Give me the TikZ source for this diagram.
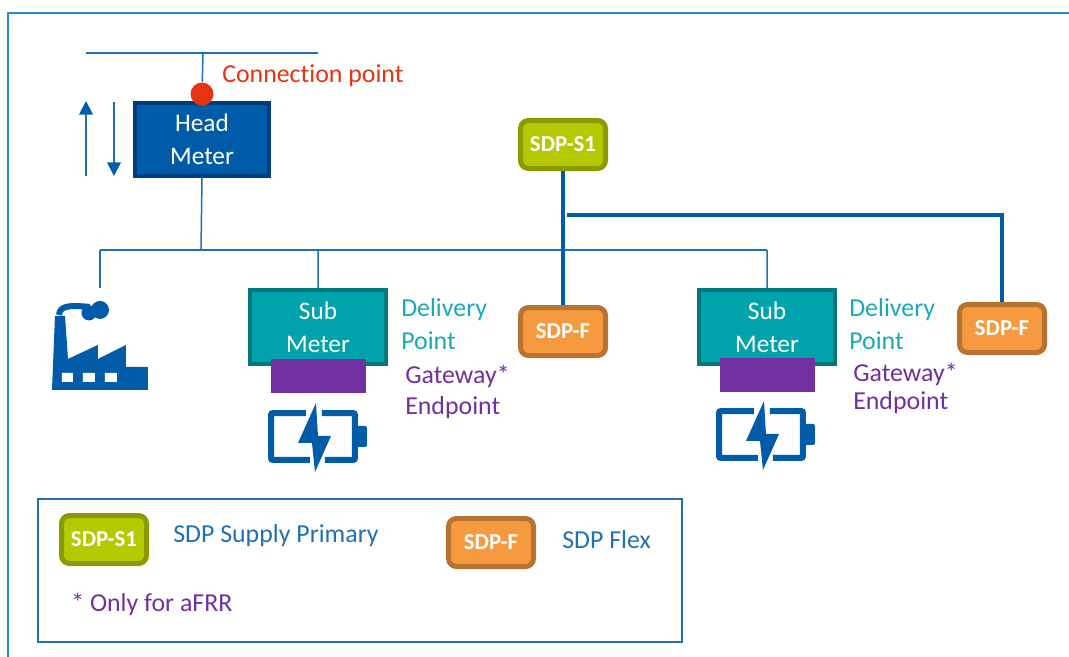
\documentclass[tikz,border=0pt]{standalone}
\usepackage{fontspec}
\setmainfont[Ligatures=NoCommon]{Carlito}
\usepackage{tikz}
\usetikzlibrary{arrows.meta}
\definecolor{frameblue}{HTML}{2B8CCB}
\definecolor{lineblue}{HTML}{1F70B5}
\definecolor{iconblue}{HTML}{005CA8}
\definecolor{headdark}{HTML}{003F7F}
\definecolor{subfill}{HTML}{00A3AB}
\definecolor{subdark}{HTML}{00787E}
\definecolor{delivteal}{HTML}{1AA9B5}
\definecolor{gatepurple}{HTML}{7030A0}
\definecolor{redpoint}{HTML}{E63312}
\definecolor{sfill}{HTML}{B5C900}
\definecolor{sdark}{HTML}{8A9A00}
\definecolor{ffill}{HTML}{F59A3E}
\definecolor{fdark}{HTML}{B87333}
\tikzstyle{head} = [rectangle, align=center, draw=headdark, fill=iconblue, text=white, line width=0.1cm, minimum width=3.35cm, minimum height=1.825cm, inner sep=0pt, font=\fontsize{18}{22}\selectfont]
\tikzstyle{sub} = [rectangle, align=center, draw=subdark, fill=subfill, text=white, line width=0.1cm, minimum width=3.4cm, minimum height=1.85cm, inner sep=0pt, font=\fontsize{18}{22}\selectfont]
\tikzstyle{gate} = [rectangle, fill=gatepurple, minimum width=2.375cm, minimum height=0.85cm, inner sep=0pt]
\tikzstyle{sdps} = [rectangle, rounded corners=0.2cm, draw=sdark, fill=sfill, text=white, line width=0.125cm, minimum width=2.125cm, minimum height=1.2cm, inner sep=0pt, font=\fontsize{16.2}{18}\selectfont\bfseries]
\tikzstyle{sdpf} = [rectangle, rounded corners=0.2cm, draw=fdark, fill=ffill, text=white, line width=0.125cm, minimum width=2.125cm, minimum height=1.2cm, inner sep=0pt, font=\fontsize{16.2}{18}\selectfont\bfseries]
\tikzstyle{caption} = [anchor=west, align=left, inner sep=0pt, font=\fontsize{18.4}{22}\selectfont]
\tikzstyle{thinline} = [draw=lineblue, line width=0.0375cm]
\tikzstyle{thickline} = [draw=iconblue, line width=0.1cm]
\tikzstyle{flow} = [draw=lineblue, line width=0.045cm, -{Triangle[length=0.34cm,width=0.34cm,color=iconblue]}]
\newcommand{\batteryicon}[1]{
\begin{scope}[shift={(#1)}, x=0.025cm, y=-0.025cm]
\draw [iconblue, line width=0.15cm, rounded corners=0.05cm] (38,10) -- (3,10) -- (3,57) -- (42,57);
\draw [iconblue, line width=0.15cm, rounded corners=0.05cm] (54,10) -- (87,10) -- (87,57) -- (57,57);
\fill [iconblue, rounded corners=0.05cm] (88,23) -- (99,23) -- (99,44) -- (88,44) -- cycle;
\fill [iconblue] (48,0) -- (30,40) -- (44,40) -- (47,69) -- (63,33) -- (50,33) -- cycle;
\end{scope}
}

\begin{document}
\begin{tikzpicture}[node distance=1cm]

\useasboundingbox (0,0) rectangle (26.725,-16.425);

\coordinate (framebottom) at (0.2,-16.425);
\coordinate (framecorner) at (0.2,-0.325);
\coordinate (frameright) at (26.725,-0.325);
\draw [frameblue, line width=0.06cm] (framebottom) -- (framecorner) -- (frameright);

\node (headmeter) [head] at (5.05,-3.4875) {Head\\[0.05cm]Meter};
\node (connpoint) [circle, fill=redpoint, minimum size=0.575cm, inner sep=0pt, above of=headmeter, yshift=0.1375cm] {};
\node (connlabel) [above of=headmeter, xshift=0.5cm, yshift=0.6cm, caption, text=redpoint] {Connection point};

\node (sdpsone) [sdps, right of=headmeter, xshift=8.025cm, yshift=-0.125cm] {SDP-S1};
\node (sdpfone) [sdpf, below of=sdpsone, yshift=-3.675cm] {SDP-F};
\node (sdpftwo) [sdpf, right of=sdpfone, xshift=9.975cm, yshift=0.075cm] {SDP-F};

\node (subone) [sub, below of=headmeter, xshift=2.9cm, yshift=-3.6875cm] {Sub\\[0.05cm]Meter};
\node (subtwo) [sub, right of=subone, xshift=10.225cm] {Sub\\[0.05cm]Meter};
\node (gateone) [gate, below of=subone, yshift=-0.225cm] {};
\node (gatetwo) [gate, below of=subtwo, yshift=-0.1875cm] {};

\node (delivone) [right of=subone, xshift=1.075cm, yshift=0.075cm, caption, text=delivteal] {Delivery\\[0.05cm]Point};
\node (delivtwo) [right of=subtwo, xshift=1.05cm, yshift=0.075cm, caption, text=delivteal] {Delivery\\[0.05cm]Point};
\node (gatelabelone) [below of=subone, xshift=2.175cm, yshift=-0.625cm, caption, text=gatepurple] {Gateway*\\Endpoint};
\node (gatelabeltwo) [below of=subtwo, xshift=2.15cm, yshift=-0.525cm, caption, text=gatepurple] {Gateway*\\[-0.075cm]Endpoint};

\node (legend) [rectangle, draw=lineblue, line width=0.0375cm, minimum width=16.1cm, minimum height=3.575cm, below of=headmeter, xshift=3.95cm, yshift=-9.775cm] {};
\node (keys) [sdps, left of=legend, xshift=-5.4cm, yshift=0.775cm] {SDP-S1};
\node (keyslabel) [right of=keys, xshift=0.725cm, yshift=0.0875cm, caption, text=lineblue] {SDP Supply Primary};
\node (keyf) [sdpf, right of=legend, xshift=2.275cm, yshift=0.7cm] {SDP-F};
\node (keyflabel) [right of=keyf, xshift=0.775cm, yshift=0.0625cm, caption, text=lineblue] {SDP Flex};
\node (onlyafrr) [below of=keys, xshift=-0.825cm, yshift=-0.6125cm, caption, text=gatepurple] {* Only for aFRR};

\coordinate (gridleft) at (2.15,-1.325);
\coordinate (gridtap) at (5.075,-1.325);
\coordinate (gridright) at (7.95,-1.325);
\coordinate (upstart) at (2.15,-4.4);
\coordinate (upend) at (2.15,-2.525);
\coordinate (downstart) at (2.85,-2.55);
\coordinate (downend) at (2.85,-4.4);
\coordinate (bustop) at (5.025,-6.25);
\coordinate (busleft) at (2.5,-6.25);
\coordinate (busmid) at (7.95,-6.25);
\coordinate (busright) at (19.175,-6.25);
\coordinate (factorytop) at (2.5,-7.2);
\coordinate (branchstart) at (14.175,-5.375);

\draw [thinline] (gridleft) -- (gridright);
\draw [thinline] (gridtap) -- (connpoint);
\draw [flow] (upstart) -- (upend);
\draw [flow] (downstart) -- (downend);
\draw [thinline] (headmeter.south) -- (bustop);
\draw [thinline] (busleft) -- (busright);
\draw [thinline] (busleft) -- (factorytop);
\draw [thinline] (busmid) -- (subone.north);
\draw [thinline] (busright) -- (subtwo.north);
\draw [thickline] (sdpsone) -- (sdpfone);
\draw [thickline] (branchstart) -| (sdpftwo);

\begin{scope}[x=0.025cm, y=-0.025cm]
\fill [iconblue] (52,390) -- (55,316) -- (65,316) -- (68,359) -- (98,345) -- (98,359) -- (126,345) -- (126,367) -- (148,367) -- (148,390) -- cycle;
\draw [iconblue, line width=0.15cm] (59,315) .. controls (60,306) and (68,305) .. (90,307);
\fill [iconblue] (89,313) circle (7.5) (100,310) circle (9);
\fill [white] (62,373) rectangle (73,382) (83,373) rectangle (95,382) (105,373) rectangle (117,382);
\end{scope}

\batteryicon{6.7,-10.075}
\batteryicon{17.9,-10.025}

\end{tikzpicture}
\end{document}
